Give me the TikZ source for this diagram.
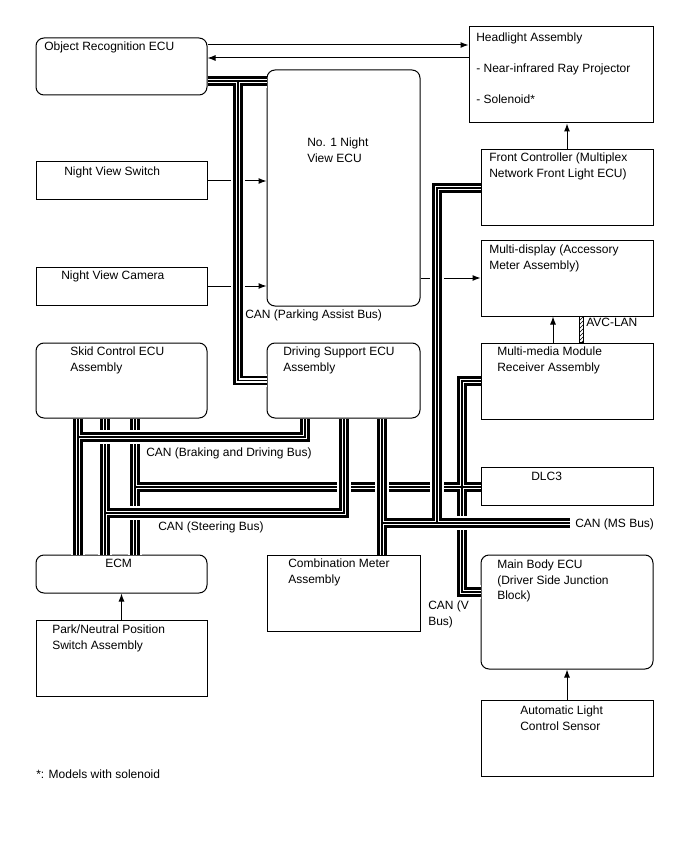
\documentclass[tikz,border=0pt]{standalone}
\usepackage{fontspec}
\setmainfont{Liberation Sans}
\usetikzlibrary{arrows.meta,fit,patterns}

\begin{document}
\begin{tikzpicture}[x=0.75pt, y=-0.75pt,  % 1 unit = 1 px of the layout
  font=\fontsize{9}{11.5}\selectfont,
  box/.style={draw, line width=0.75pt, inner sep=0pt},
  rbox/.style={box, rounded corners=6pt},
  txt/.style={inner sep=0pt, anchor=north west, align=left},
  arrow/.style={-{Latex[length=6pt,width=4.5pt]}, line width=0.75pt},
  bus/.style={draw=black, line width=6.8pt,
              preaction={draw=white, line width=10pt},
              postaction={draw=white, line width=3.6pt},
              postaction={draw=black, line width=0.9pt}},
  avc/.style={draw, line width=0.5pt, pattern=north east lines}
]
\useasboundingbox (0,0) rectangle (688,852);

% --- Boxes ---
\node[rbox, fit={(36,38) (207,95)}]   (orecu)  {};
\node[box,  fit={(469,27) (653,123)}] (head)   {};
\node[rbox, fit={(267,70) (420,306)}] (nvecu)  {};
\node[box,  fit={(36,162) (207,200)}] (nvsw)   {};
\node[box,  fit={(36,267) (207,305)}] (nvcam)  {};
\node[box,  fit={(481,150) (653,226)}] (front) {};
\node[box,  fit={(481,240) (653,316)}] (mdisp) {};
\node[box,  fit={(481,343) (653,419)}] (mmod)  {};
\node[rbox, fit={(36,343) (207,418)}]  (skid)  {};
\node[rbox, fit={(267,343) (420,418)}] (dsecu) {};
\node[box,  fit={(481,467) (653,505)}] (dlc)   {};
\node[rbox, fit={(36,555) (207,593)}]  (ecm)   {};
\node[box,  fit={(267,555) (420,631)}] (combi) {};
\node[rbox, fit={(481,555) (653,669)}] (mbecu) {};
\node[box,  fit={(36,620) (207,696)}]  (pnsw)  {};
\node[box,  fit={(481,700) (653,776)}] (alsens) {};

% --- Box texts ---
\node[txt] (t-orecu) at (44,42)   {Object Recognition ECU};
\node[txt] (t-head)  at (476,33)  {Headlight Assembly\\[11.5pt]- Near-infrared Ray Projector\\[11.5pt]- Solenoid*};
\node[txt] (t-nvecu) at (307,138) {No. 1 Night\\View ECU};
\node[txt] (t-nvsw)  at (64,167)  {Night View Switch};
\node[txt] (t-nvcam) at (61,271)  {Night View Camera};
\node[txt] (t-front) at (489,153) {Front Controller (Multiplex\\Network Front Light ECU)};
\node[txt] (t-mdisp) at (489,245) {Multi-display (Accessory\\Meter Assembly)};
\node[txt] (t-mmod)  at (497,347) {Multi-media Module\\Receiver Assembly};
\node[txt] (t-skid)  at (70,347)  {Skid Control ECU\\Assembly};
\node[txt] (t-dsecu) at (283,347) {Driving Support ECU\\Assembly};
\node[txt] (t-dlc)   at (531,472) {DLC3};
\node[txt] (t-ecm)   at (105,559) {ECM};
\node[txt] (t-combi) at (288,559) {Combination Meter\\Assembly};
\node[txt] (t-mbecu) at (497,560) {Main Body ECU\\(Driver Side Junction\\Block)};
\node[txt] (t-pnsw)  at (52,625)  {Park/Neutral Position\\Switch Assembly};
\node[txt] (t-alsens) at (520,706) {Automatic Light\\Control Sensor};

% --- Signal lines ---
\draw[arrow] (orecu.east |- 0,45) -- (head.west |- 0,45);
\draw[arrow] (head.west |- 0,58) -- (orecu.east |- 0,58);
\draw[arrow] (nvsw.east) -- (nvecu.west |- nvsw.east);
\draw[arrow] (nvcam.east) -- (nvecu.west |- nvcam.east);
\draw[arrow] (nvecu.east |- mdisp.west) -- (mdisp.west);
\draw[arrow] (front.north) -- (front.north |- head.south);
\draw[arrow] (553,0 |- mmod.north) -- (553,0 |- mdisp.south);
\draw[arrow] (pnsw.north) -- (ecm.south);
\draw[arrow] (alsens.north) -- (mbecu.south);
\draw[avc] (579,0 |- mdisp.south) rectangle (583,0 |- mmod.north);

% --- Buses (later ones pass over earlier ones) ---
% DLC3 branch + V bus
\coordinate (jbd)  at (135,487);
\coordinate (vtop) at (462,381);
\coordinate (vbot) at (462,592);
\draw[bus] (135,0 |- skid.south) -- (135,0 |- ecm.north)
  (jbd) -- (jbd -| dlc.west)
  (mmod.west) -- (vtop) -- (vbot) -- (vbot -| mbecu.west);

% Steering bus
\coordinate (jst) at (105,513);
\draw[bus] (105,0 |- skid.south) -- (105,0 |- ecm.north)
  (jst) -| (344,0 |- dsecu.south);

% Braking and driving bus
\coordinate (jbr) at (78,437);
\draw[bus] (78,0 |- skid.south) -- (78,0 |- ecm.north)
  (jbr) -| (305,0 |- dsecu.south);

% MS bus
\coordinate (jms)   at (382,523);
\coordinate (msend) at (570,523);
\draw[bus] (382,0 |- dsecu.south) -- (382,0 |- combi.north)
  (jms) -- (msend)
  (front.west) -| (437,523);

% Parking assist bus
\coordinate (jpa) at (238,81);
\draw[bus] (orecu.east |- jpa) -- (nvecu.west |- jpa)
  (jpa) |- (dsecu.west);

% --- Bus labels ---
\node[txt] (lblpa)  at (245,310) {CAN (Parking Assist Bus)};
\node[txt] (lblavc) at (586,318) {AVC-LAN};
\node[txt] (lblbd)  at (146,448) {CAN (Braking and Driving Bus)};
\node[txt] (lblst)  at (158,522) {CAN (Steering Bus)};
\node[txt] (lblms)  at (575,519) {CAN (MS Bus)};
\node[txt] (lblv)   at (428,601) {CAN (V\\Bus)};
\node[txt] (note)   at (36,770)  {*: Models with solenoid};

\end{tikzpicture}
\end{document}
